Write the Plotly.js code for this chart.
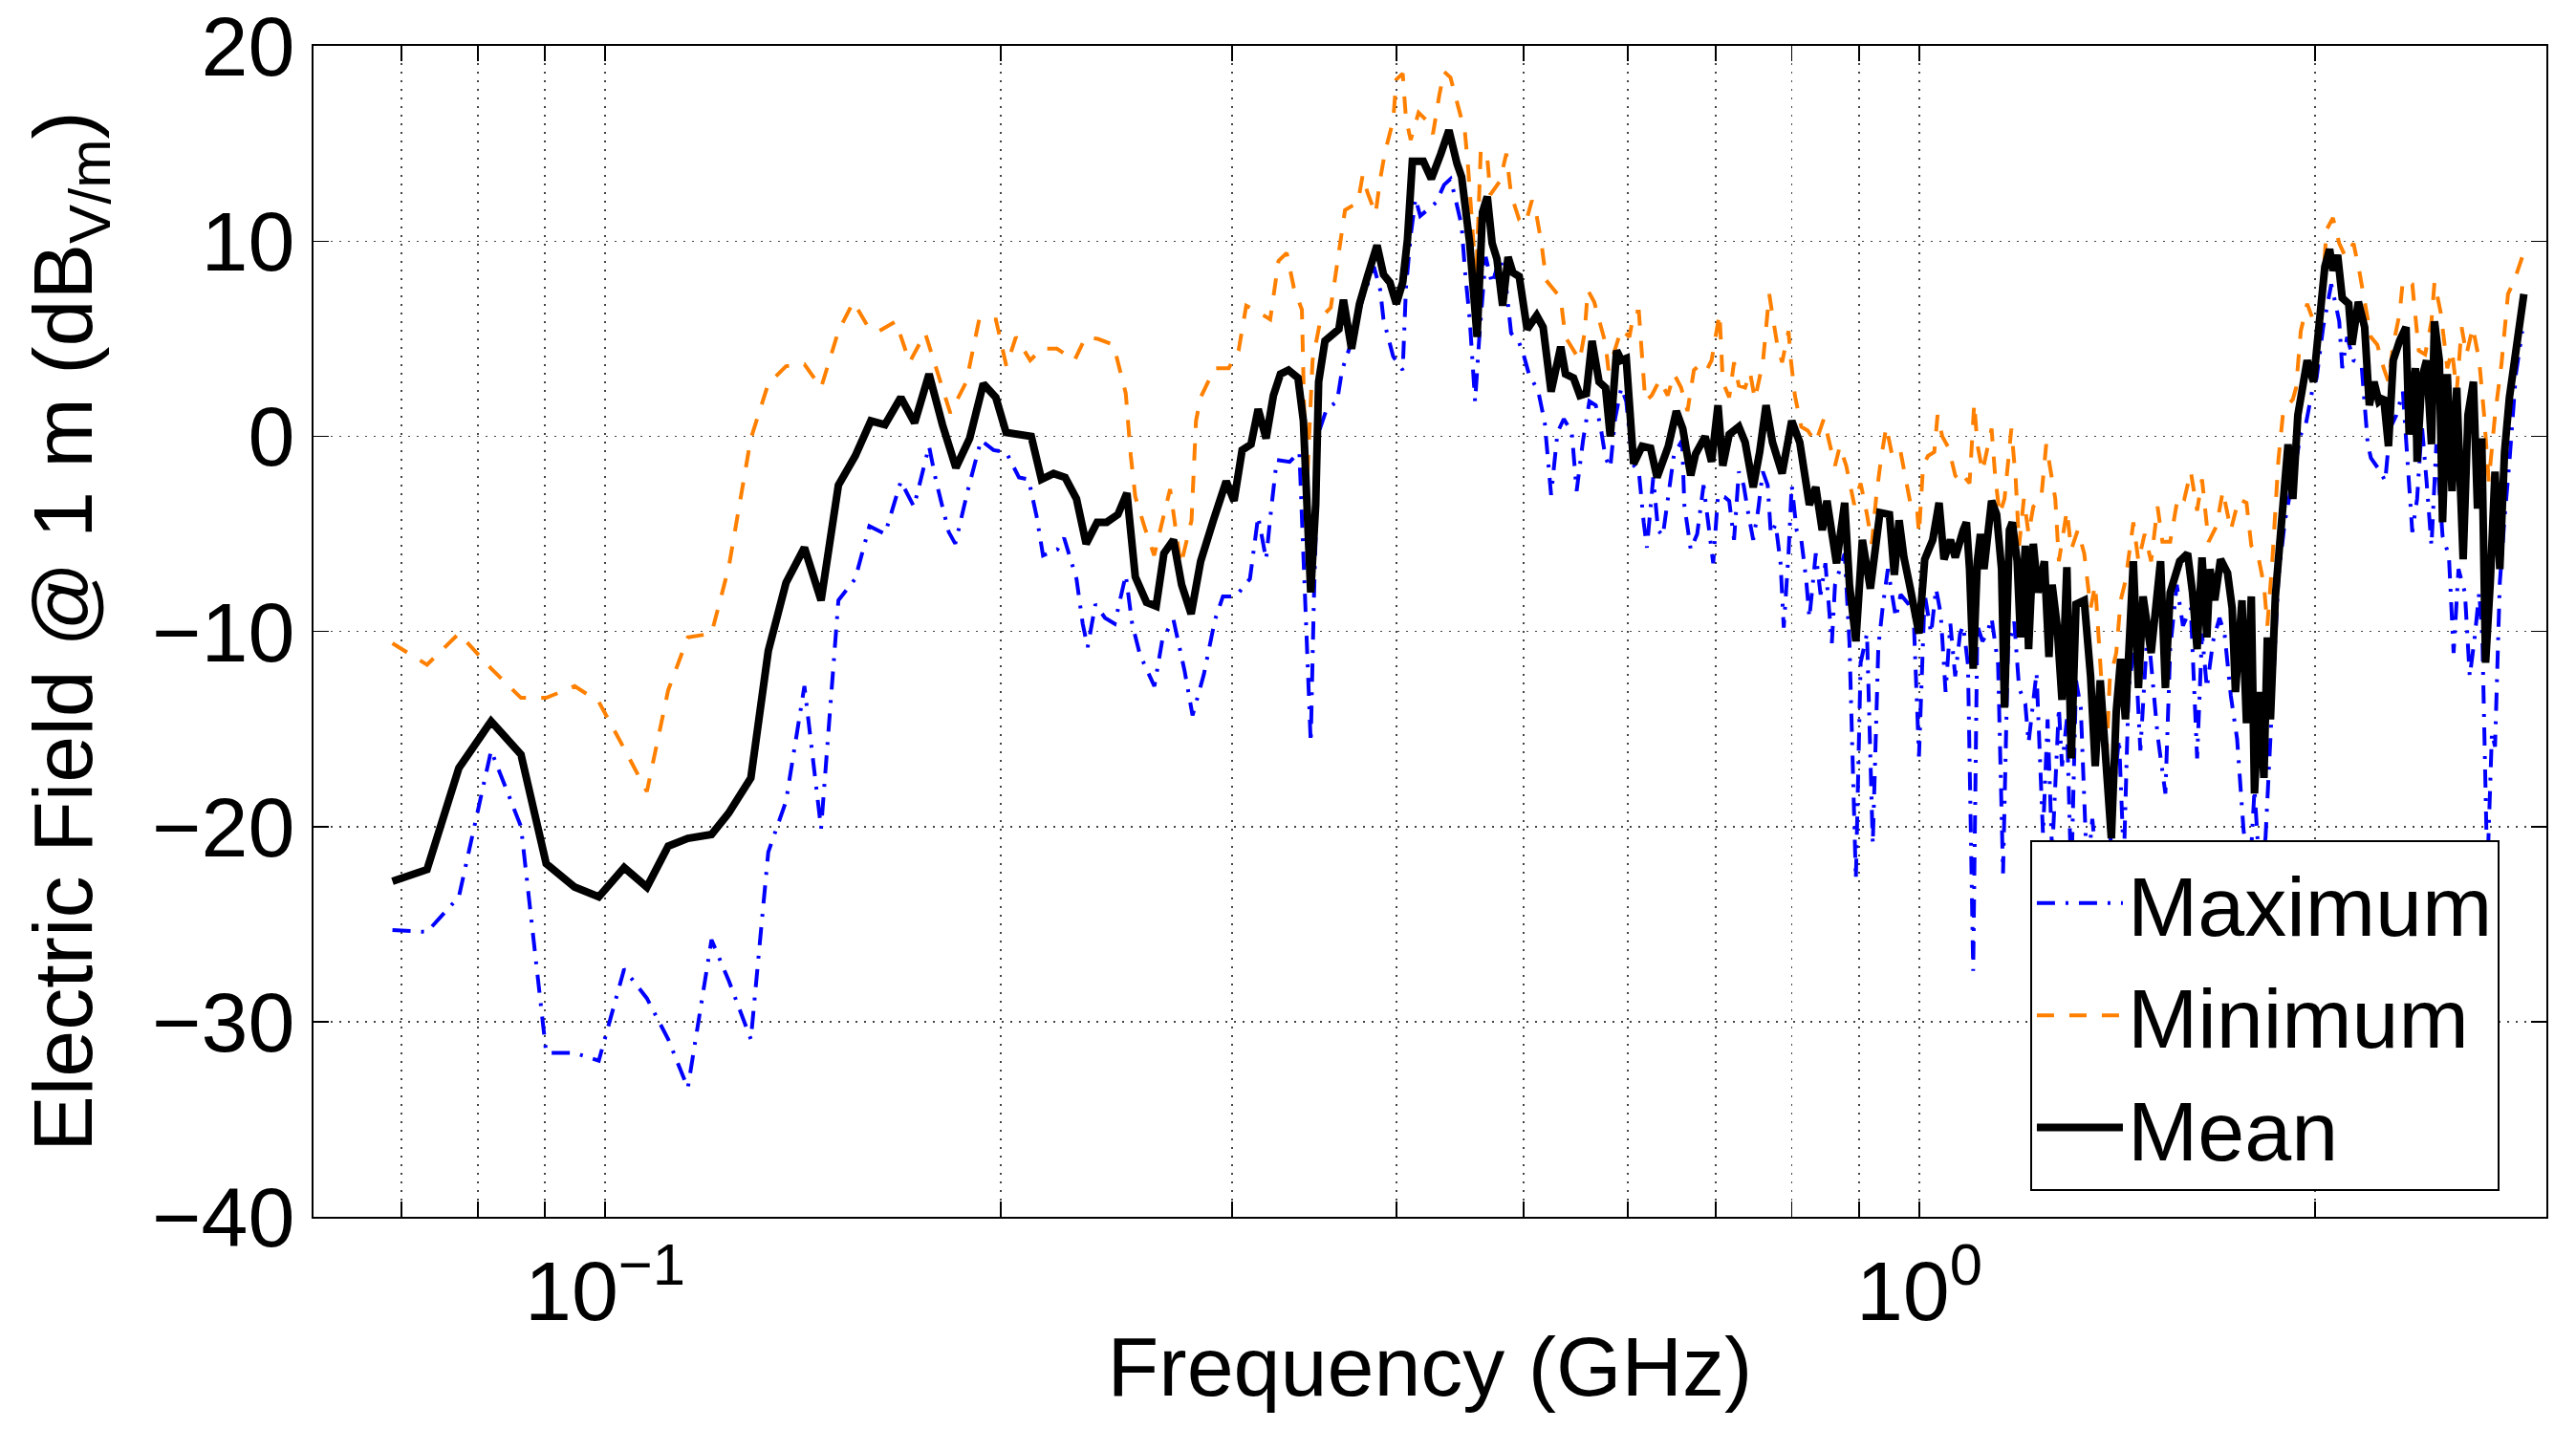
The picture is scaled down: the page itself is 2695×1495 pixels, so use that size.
<!DOCTYPE html>
<html>
<head>
<meta charset="utf-8">
<script src="https://cdn.plot.ly/plotly-3.0.1.min.js"></script>
<style>
  html, body { margin: 0; padding: 0; background: white; }
</style>
</head>
<body>
<div id="chart" style="width:2695px;height:1495px;"></div>
<script>
// frequencies in GHz, field in dB V/m
var maxFreq = [0.0689,0.0732,0.0774,0.0819,0.0863,0.0902,0.0948,0.0989,0.1034,0.1076,0.1117,0.1156,0.1205,0.1242,0.1291,0.1331,0.1373,0.1418,0.146,0.1505,
  0.155,0.1589,0.1633,0.1679,0.1718,0.1764,0.1786,0.1826,0.1847,0.1889,0.1932,0.1975,0.2019,0.2065,0.21,0.213,0.2154,0.2209,0.2235,0.2284,
  0.2309,0.2329,0.2361,0.2401,0.2442,0.249,0.2518,0.2553,0.2618,0.2655,0.2707,0.276,0.2799,0.2855,0.2911,0.2952,0.3019,0.3095,0.314,0.3184,
  0.3208,0.3244,0.3318,0.3375,0.3443,0.3462,0.3491,0.354,
  0.3606,0.3637,0.3709,0.3771,0.3846,0.3889,0.3911,0.3978,0.4045,0.4068,0.4102,0.4137,0.4171,0.429,0.4349,0.4398,0.4436,0.4485,0.4511,0.4549,
  0.4592,0.4626,0.4678,0.4731,0.4797,0.485,0.4891,0.4961,0.5003,0.5046,0.513,0.5188,0.5246,0.5305,0.5364,0.544,0.5486,0.5548,0.561,0.5673,
  0.5721,0.5771,0.5819,0.5868,0.5933,0.5984,0.605,0.6118,0.617,0.6205,0.6274,0.6327,0.638,0.6452,0.6507,0.66,
  0.6625,0.67,0.6776,0.6852,0.6911,0.6969,0.7028,0.7107,0.7167,0.7228,0.7289,0.7351,0.7413,0.7475,0.7539,0.7602,0.7667,0.771,0.7775,0.7842,
  0.7886,0.7952,0.7997,0.8065,0.8132,0.8201,0.8248,0.8341,0.8412,0.8483,0.8579,0.8627,0.8774,0.8848,0.8948,0.9023,0.9124,0.9217,0.9307,0.9384,
  0.9464,0.9598,0.9678,0.9815,0.9899,0.9994,1.0095,1.0209,1.0297,1.0383,1.0471,1.0559,1.0649,1.074,
  1.080,1.089,1.099,1.107,1.117,1.126,1.135,1.148,1.158,1.168,1.181,1.191,1.204,1.211,1.228,1.242,1.252,1.262,1.277,1.284,
  1.295,1.305,1.316,1.327,1.342,1.354,1.365,1.380,1.392,1.404,1.419,1.431,1.443,1.459,1.473,1.492,1.518,1.539,1.552,1.570,
  1.587,1.609,1.627,1.641,1.655,1.673,1.692,1.707,1.726,1.745,1.765,1.784,1.799,1.814,1.834,1.856,1.876,1.897,
  1.935,1.951,1.968,1.99,2.006,2.029,2.058,2.069,2.087,2.098,2.116,2.14,2.17,2.194,2.206,2.243,2.262,2.281,2.307,2.333,
  2.372,2.392,2.412,2.432,2.453,2.474,2.501,2.529,2.55,2.572,2.601,2.623,2.645,2.667,2.682,2.705,2.727,2.742,2.765,2.788,
  2.812,2.844,2.876];
var maxDb = [-25.3,-25.4,-23.6,-16.1,-20.0,-31.6,-31.6,-32.0,-27.3,-28.8,-30.9,-33.4,-25.8,-27.9,-30.9,-21.3,-18.7,-12.8,-20.1,-8.4,
  -7.3,-4.6,-5.0,-2.3,-3.6,-0.5,-2.3,-4.9,-5.5,-2.7,-0.2,-0.7,-0.8,-2.1,-2.2,-4.1,-6.1,-5.8,-5.2,-7.3,
  -9.6,-10.8,-8.6,-9.3,-9.6,-7.1,-9.6,-11.2,-12.8,-10.4,-9.4,-12.0,-14.3,-12.2,-9.4,-8.2,-8.2,-7.3,-4.1,-6.3,
  -4.1,-1.2,-1.3,-0.8,-15.7,-8.4,0.2,1.4,
  1.8,3.4,5.1,7.1,8.7,7.5,6.0,4.1,3.4,7.6,10.3,12.2,11.3,12.0,12.9,13.2,12.2,10.8,8.5,6.0,
  1.8,5.1,9.2,7.8,9.2,7.6,5.3,4.8,4.1,3.2,2.3,0.7,-3.0,0.2,0.9,0.2,-2.8,-0.2,1.8,1.6,
  0.5,-1.1,-1.6,0.9,2.5,1.8,-1.4,-1.8,-4.4,-5.7,-2.1,-4.8,-5.1,-2.8,-0.9,-0.2,
  -3.5,-5.8,-5.0,-2.5,-4.5,-6.5,-3.0,-3.1,-3.3,-5.3,-1.8,-2.5,-4.0,-5.3,-3.8,-1.8,-2.5,-5.0,-4.5,-6.5,
  -9.8,-6.0,-2.5,-4.8,-5.3,-7.3,-9.3,-6.0,-8.1,-6.5,-10.6,-7.6,-6.0,-10.6,-22.7,-11.6,-10.1,-20.9,-10.8,-8.6,
  -6.8,-9.3,-8.1,-8.6,-9.1,-16.4,-8.1,-10.1,-7.8,-9.1,-13.1,-9.6,-12.3,-10.1,
  -9.7,-11.7,-27.4,-9.7,-10.5,-10.1,-9.3,-11.7,-22.4,-10.9,-9.5,-12.9,-13.7,-15.7,-12.1,-20.4,-14.5,-21.4,-13.9,-16.9,
  -14.5,-22.8,-12.5,-13.9,-22.6,-19.6,-22.0,-20.6,-23.0,-18.5,-15.5,-21.8,-12.9,-10.5,-16.1,-9.7,-15.3,-18.3,-10.9,-7.6,
  -9.7,-8.8,-16.5,-10.1,-12.9,-10.5,-9.3,-10.1,-13.3,-15.5,-20.2,-22.6,-18.1,-22.0,-20.6,-13.5,-7.2,-4.4,
  -1.3,0.1,0.6,2.3,3.0,5.6,7.8,7.1,5.9,3.5,5.1,3.9,3.7,-0.4,-1.1,-1.8,-2.3,0.4,1.1,2.3,
  -4.9,-3.2,0.6,-2.3,-5.6,-0.4,-5.1,-6.1,-11.1,-6.8,-8.0,-12.3,-10.4,-8.0,-10.4,-22.4,-15.2,-15.9,-7.5,-4.2,
  -1.3,3.2,5.4];

var minFreq = [0.0689,0.0732,0.0774,0.0819,0.0863,0.0902,0.0948,0.0989,0.1034,0.1076,0.1117,0.1156,0.1205,0.1242,0.1291,0.1331,0.1373,0.1418,0.146,0.1505,
  0.1545,0.1586,0.1616,0.1664,0.1705,0.1752,0.1831,0.1883,0.1926,0.1983,0.202,0.2054,0.2106,0.2149,0.2207,0.2276,0.2321,0.2371,0.2437,0.249,
  0.2512,0.2532,0.2575,0.2617,0.2691,0.2742,0.2794,0.2816,0.2839,0.291,0.2982,0.3034,0.3075,0.3137,0.3207,0.3254,0.3301,0.3343,0.339,0.3416,
  0.3454,0.3505,0.3566,
  0.3627,0.3656,0.374,0.3771,0.3803,0.3857,0.3889,0.3922,0.3978,0.4,0.4045,0.4068,0.4102,0.4159,0.4218,0.4265,0.4313,0.4349,0.4398,0.446,
  0.4511,0.4536,0.4574,0.46,0.4638,0.4691,0.4717,0.4797,0.485,0.4891,0.4961,0.5016,0.5072,0.5115,0.5158,0.5201,0.526,0.5334,0.5379,0.5516,
  0.5563,0.5594,0.5657,0.5721,0.5769,0.5801,0.5867,0.5933,0.6017,0.6067,0.6118,0.6152,0.6187,0.6257,0.6345,0.6435,0.6507,
  0.6588,0.6662,0.6737,0.6813,0.689,0.6949,0.7047,0.7087,0.7167,0.7228,0.7289,0.737,0.7433,0.7497,0.7603,0.7645,0.7688,0.7732,0.7797,0.7863,
  0.7952,0.7983,0.8041,0.8132,0.8225,0.8341,0.8459,0.8555,0.8627,0.87,0.8798,0.8923,0.9023,0.9124,0.9202,0.9279,0.9358,0.9438,0.9544,0.9678,
  0.9761,0.9843,0.9954,0.9994,1.0067,1.0153,1.0266,1.0325,1.0411,1.0529,1.0649,1.074,
  1.080,1.092,1.101,1.107,1.117,1.126,1.135,1.142,1.151,1.161,1.171,1.175,1.184,1.191,1.201,1.211,1.221,1.238,1.249,1.259,
  1.269,1.277,1.295,1.305,1.320,1.335,1.350,1.361,1.373,1.388,1.396,1.412,1.423,1.435,1.455,1.468,1.484,1.501,1.518,1.531,
  1.552,1.574,1.591,1.609,1.627,1.641,1.660,1.683,1.702,1.726,1.750,1.774,1.789,1.809,1.829,1.840,1.856,1.876,1.892,1.924,
  1.935,1.951,1.973,1.995,2.018,2.041,2.064,2.087,2.110,2.140,2.164,2.188,2.206,2.231,2.256,2.275,2.294,2.320,2.333,2.372,
  2.399,2.426,2.453,2.466,2.494,2.522,2.543,2.564,2.586,2.608,2.637,2.667,2.690,2.712,2.742,2.773,2.805,2.836,2.876,2.892];
var minDb = [-10.6,-11.7,-10.1,-11.9,-13.4,-13.4,-12.8,-13.6,-16.0,-18.2,-13.0,-10.3,-10.1,-6.7,-0.1,2.7,3.6,3.7,2.5,5.4,
  6.9,5.6,5.4,5.9,3.8,5.3,1.2,2.8,6.0,6.0,3.6,5.1,3.9,4.5,4.5,3.9,5.1,5.0,4.7,2.2,
  -1.0,-3.1,-4.7,-6.1,-2.7,-6.6,-4.3,0.8,2.0,3.5,3.5,4.4,6.7,6.4,6.0,9.0,9.4,7.6,6.5,-3.3,
  3.9,6.1,6.6,
  10.1,11.6,12.0,13.4,12.5,11.4,13.2,14.6,16.2,18.3,18.6,16.3,15.2,16.6,16.2,15.5,17.5,18.7,18.4,16.8,
  15.6,13.8,10.3,8.0,14.7,14.3,12.4,13.1,14.5,12.4,11.1,10.9,12.1,11.3,9.9,8.0,7.6,7.1,5.1,3.9,
  5.3,7.5,6.9,5.7,4.8,3.4,4.4,5.5,5.1,6.4,6.4,4.1,1.8,2.1,2.9,2.1,3.2,
  2.5,1.3,3.4,3.7,3.4,3.9,6.3,2.8,2.0,3.8,2.6,2.5,3.3,1.9,3.8,5.7,7.3,6.2,4.7,3.8,
  5.4,4.0,2.1,0.5,0.3,-0.3,0.9,-0.5,-1.5,-0.5,-1.5,-3.5,-2.4,-4.0,-5.5,-2.9,-1.0,0.5,-1.1,-0.8,
  -2.0,-3.4,-3.5,-5.0,-1.5,-1.0,-0.8,1.1,0.0,-0.6,-2.0,-2.3,
  -2.0,-2.4,1.7,-0.4,-1.8,-0.8,0.4,-2.0,-4.0,-3.2,-0.4,0.4,-2.2,-5.6,-3.2,-5.0,-3.6,-3.2,-0.4,-1.8,
  -3.2,-6.4,-3.8,-5.8,-4.8,-6.0,-8.8,-7.6,-11.7,-16.5,-12.5,-11.1,-8.4,-7.4,-4.4,-6.4,-5.0,-6.4,-3.6,-5.4,
  -5.4,-3.0,-3.2,-1.8,-3.8,-2.2,-5.4,-4.6,-2.8,-4.8,-3.2,-3.4,-5.6,-6.0,-7.6,-9.7,-6.4,-1.2,1.3,1.9,
  2.5,5.4,6.8,5.9,5.6,10.6,11.2,9.9,9.2,9.9,8.3,6.6,5.1,4.7,3.5,2.8,4.7,6.3,8.0,7.8,
  4.4,4.2,5.9,7.9,6.3,3.5,4.4,2.3,5.6,4.2,5.6,3.9,1.1,-2.3,1.1,3.7,7.3,8.0,9.2,8.9];

var meanFreq = [0.0689,0.0732,0.0774,0.0819,0.0863,0.0902,0.0948,0.0989,0.1034,0.1076,0.1117,0.1156,0.1205,0.1242,0.1291,0.1331,0.1373,0.1418,0.146,0.1505,0.155,
  0.1593,0.1633,0.1679,0.172,0.1764,0.1806,0.1849,0.1894,0.194,0.1983,0.2019,0.211,0.2148,0.2194,0.2239,0.2284,0.2323,0.2368,0.2408,0.2456,
  0.2495,0.2532,0.2582,0.2626,0.2662,0.2707,0.2746,0.2792,0.2839,0.2903,0.2969,0.301,0.3053,0.3101,0.314,0.3184,0.3225,0.3265,0.3311,0.3367,
  0.3399,0.3443,0.3473,0.3491,0.353,
  0.3617,0.3646,0.3698,0.375,0.3803,0.3867,0.3911,0.3955,0.4,0.4045,0.4079,0.4114,0.4194,0.4253,0.4325,0.4386,0.4448,0.4485,0.4549,0.4608,
  0.4652,0.4691,0.4731,0.4771,0.4819,0.4865,0.4906,0.4961,0.503,0.5115,0.5173,0.5246,0.5335,0.538,0.5456,0.5518,0.558,0.5636,0.5706,0.5771,
  0.5819,0.5884,0.5933,0.5984,0.6062,0.6153,
  0.6245,0.6316,0.6442,0.6533,0.6607,0.67,0.6757,0.6871,0.6949,0.7028,0.7087,0.7167,0.7289,0.737,0.7475,0.756,0.7645,0.7732,0.7863,0.7997,
  0.811,0.8248,0.8341,0.8436,0.8506,0.865,0.8774,0.8848,0.8948,0.905,0.9178,0.9333,0.949,0.9572,0.9652,0.9734,0.9844,0.9994,1.0095,1.0238,
  1.0352,1.0442,
  1.056,1.065,1.080,1.086,1.092,1.099,1.107,1.113,1.120,1.129,1.135,1.145,1.155,1.161,1.171,1.177,1.187,1.194,1.204,1.211,
  1.221,1.231,1.245,1.255,1.262,1.273,1.284,1.295,1.305,1.316,1.335,1.350,1.361,1.373,1.388,1.400,1.412,1.423,1.435,1.443,
  1.455,1.468,1.480,1.501,1.514,1.526,1.539,1.552,1.578,1.600,1.614,1.627,1.641,1.655,1.664,1.678,1.695,1.716,1.730,1.740,
  1.760,1.774,1.789,1.799,1.814,1.829,1.840,1.850,1.866,
  1.887,1.908,1.924,1.941,1.957,1.973,1.995,2.012,2.035,2.052,2.064,2.081,2.098,2.122,2.134,2.158,2.182,2.200,2.218,2.237,
  2.256,2.275,2.294,2.320,2.346,2.359,2.385,2.392,2.412,2.432,2.453,2.466,2.487,2.501,2.522,2.543,2.564,2.593,2.615,2.640,
  2.659,2.679,2.697,2.719,2.742,2.765,2.788,2.812,2.836,2.860,2.884];
var meanDb = [-22.8,-22.2,-17.0,-14.6,-16.3,-21.9,-23.1,-23.6,-22.1,-23.1,-21.0,-20.6,-20.4,-19.3,-17.5,-11.0,-7.5,-5.7,-8.4,-2.5,-1.0,
  0.8,0.6,2.0,0.7,3.2,0.6,-1.6,-0.1,2.7,2.0,0.2,0.0,-2.2,-1.9,-2.1,-3.2,-5.5,-4.4,-4.4,-4.0,
  -2.9,-7.2,-8.5,-8.7,-6.0,-5.3,-7.6,-9.1,-6.4,-4.3,-2.3,-3.3,-0.7,-0.4,1.4,-0.1,2.1,3.2,3.4,3.0,
  0.8,-8.0,-3.5,2.8,4.9,
  5.5,7.0,4.5,6.8,8.2,9.8,8.3,7.9,6.8,7.9,10.1,14.1,14.1,13.2,14.5,15.7,14.0,13.3,9.9,5.1,
  11.5,12.3,9.9,9.1,6.7,9.2,8.4,8.2,5.5,6.2,5.6,2.3,4.6,3.2,3.0,2.1,2.2,4.9,2.8,2.5,
  0.0,4.4,3.9,4.0,-1.4,-0.5,
  -0.6,-2.1,-0.5,1.3,0.4,-2.0,-0.9,0.0,-1.3,1.6,-1.5,0.1,0.5,-0.3,-2.6,-0.8,1.6,-0.3,-1.9,0.8,
  -0.3,-3.5,-2.6,-4.8,-3.3,-6.5,-3.4,-7.6,-10.5,-5.3,-7.8,-3.9,-4.0,-7.1,-4.3,-6.2,-7.8,-10.1,-6.3,-5.3,
  -3.4,-6.3,
  -5.3,-6.2,-4.8,-4.4,-6.8,-11.9,-6.4,-5.0,-6.8,-5.0,-3.3,-4.0,-6.8,-13.9,-4.8,-4.4,-6.4,-10.3,-5.6,-10.9,
  -5.5,-8.0,-6.4,-11.3,-7.6,-9.7,-13.5,-6.7,-16.5,-8.6,-8.4,-12.3,-16.9,-12.5,-17.9,-20.6,-14.1,-11.4,-14.5,-10.9,
  -6.4,-12.9,-8.2,-11.1,-8.4,-6.4,-12.9,-8.0,-6.4,-6.0,-8.0,-10.9,-6.2,-10.3,-6.8,-8.4,-6.3,-7.0,-8.8,-13.1,
  -8.4,-14.7,-8.2,-18.3,-13.1,-17.5,-10.3,-14.5,-8.2,
  -4.2,-0.4,-3.2,1.1,2.5,3.9,2.8,5.4,8.7,9.6,8.5,9.3,7.1,6.8,4.7,6.9,5.6,1.6,2.8,1.8,
  2.0,-0.5,3.9,4.9,5.6,0.1,3.5,-1.3,3.0,3.9,-0.4,5.9,3.9,-4.4,3.2,-2.8,2.5,-6.3,1.1,2.8,
  -3.7,-0.1,-11.6,-7.5,-1.8,-6.8,-0.8,2.0,3.9,5.4,7.3];

// decade labels on the major ticks, the log sub-decades as minor ticks + grid
var xTickVals = [0.1, 1];
var xTickText = ["10<sup>\u22121</sup>", "10<sup>0</sup>"];
var xMinorVals = [0.07,0.08,0.09,0.2,0.3,0.4,0.5,0.6,0.7,0.8,0.9,2];
var yTickVals = [-40,-30,-20,-10,0,10,20];

var traceMax = {
  x: maxFreq, y: maxDb, name: "Maximum", type: "scatter", mode: "lines",
  line: { color: "#0000ff", width: 4, dash: "19px,11px,3px,11px" }
};
var traceMin = {
  x: minFreq, y: minDb, name: "Minimum", type: "scatter", mode: "lines",
  line: { color: "#ff8000", width: 4, dash: "18px,16px" }
};
var traceMean = {
  x: meanFreq, y: meanDb, name: "Mean", type: "scatter", mode: "lines",
  line: { color: "#000000", width: 8 }
};

var gridDash = "2px,7px";
var axisStyle = {
  showline: true, linecolor: "black", linewidth: 2, mirror: "ticks",
  ticks: "inside", ticklen: 16, tickwidth: 1.5, tickcolor: "black",
  showgrid: true, gridcolor: "#444444", gridwidth: 1.5, griddash: gridDash,
  zeroline: false, ticklabeloverflow: "allow",
  tickfont: { size: 88, color: "black" }
};

var layout = {
  width: 2695, height: 1495,
  margin: { l: 328, r: 31, t: 48, b: 222 },
  paper_bgcolor: "white", plot_bgcolor: "white",
  font: { family: "Liberation Sans, Arial, sans-serif", size: 88, color: "black" },
  showlegend: true,
  xaxis: Object.assign({}, axisStyle, {
    type: "log",
    range: [Math.log10(0.06), Math.log10(3)],
    tickmode: "array", tickvals: xTickVals, ticktext: xTickText,
    minor: {
      tickmode: "array", tickvals: xMinorVals,
      ticks: "inside", ticklen: 16, tickwidth: 1.5, tickcolor: "black",
      showgrid: true, gridcolor: "#444444", gridwidth: 1.5, griddash: gridDash
    },
    title: { text: "Frequency (GHz)", font: { size: 88 }, standoff: 0 }
  }),
  yaxis: Object.assign({}, axisStyle, {
    range: [-40, 20.02],
    tickmode: "array", tickvals: yTickVals,
    title: { text: "Electric Field @ 1 m (dB<sub>V/m</sub>)", font: { size: 88 }, standoff: 33 }
  }),
  legend: {
    x: 0.979, y: 0.022, xanchor: "right", yanchor: "bottom",
    bgcolor: "white", bordercolor: "black", borderwidth: 2,
    font: { size: 88, color: "black" }, itemwidth: 90
  }
};

Plotly.newPlot("chart", [traceMax, traceMin, traceMean], layout, { displayModeBar: false, staticPlot: true });
</script>
</body>
</html>
